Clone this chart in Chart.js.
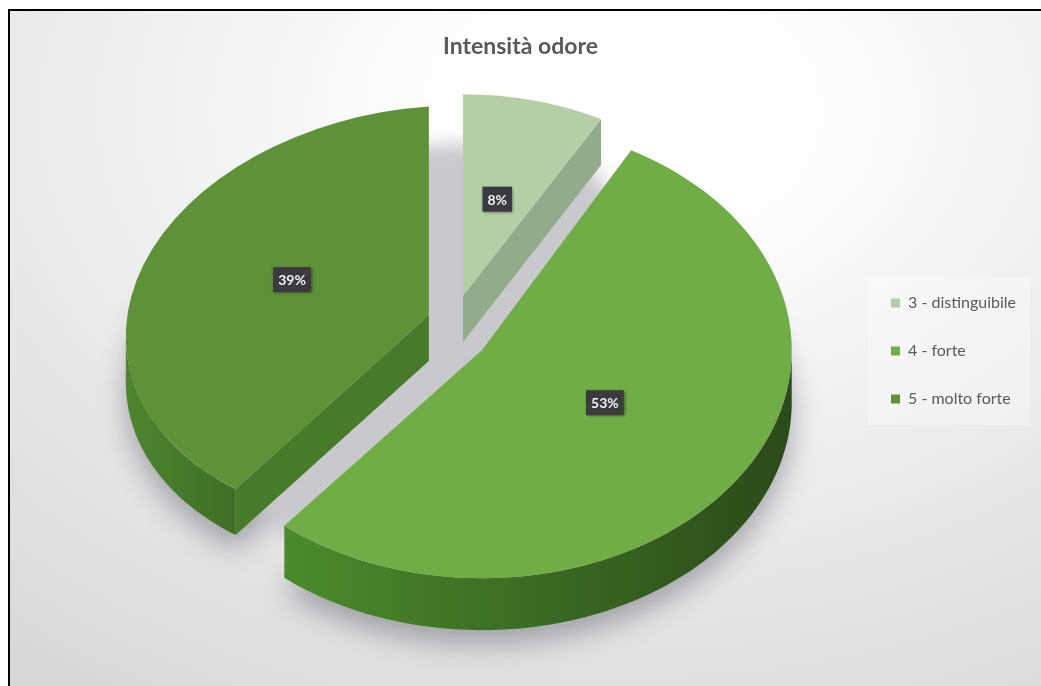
<!DOCTYPE html>
<html lang="it">
<head>
<meta charset="utf-8">
<title>Intensità odore</title>
<script src="https://cdn.jsdelivr.net/npm/chart.js@4"></script>
<style>
  html, body { margin: 0; padding: 0; background: #fff; overflow: hidden; }
  #bg {
    position: absolute; left: 8px; top: 9px; width: 1031px; height: 675px;
    border-left: 2px solid #000; border-top: 2px solid #000;
    background: radial-gradient(ellipse 1000px 700px at 612px 100px, #fff 0, #fff 15%, #d8d8d8 100%);
  }
  canvas { position: absolute; left: 0; top: 0; }
</style>
</head>
<body>
<div id="bg"></div>
<canvas id="pie" width="1041" height="686"></canvas>
<script>
"use strict";

// Data
const categories = ["3 - distinguibile", "4 - forte", "5 - molto forte"];
const values = [8, 53, 39];

// Colori
const topColors = ["#b6cea8", "#70ad47", "#5f9138"];
const sideColors = ["#93ab8c", "#4a7d2c", "#487a2b"];
const wallStops = [
    ["#93ab8c", "#93ab8c"],
    ["#4c8a2c", "#2b4a1a"],
    ["#4f8530", "#3e6e26"]
];

// Vista 3D: ogni fetta ha la sua scala per imitare la prospettiva
const pieCentre = { x: 454.5, y: 319.5 };
const baseRadius = 300;
const explode = [36, 32, 27];
const scaleX = [0.955, 1.033, 1.01];
const scaleY = [0.673, 0.76, 0.695];
const skew = [0, 0, -0.07];
const drop = [0, 17, 0];
const depth = [46, 52, 46];
const labelLift = [3, 9, 11];

function project(i, arc, angle, r) {
    const mid = (arc.startAngle + arc.endAngle) / 2;
    const dx = (Math.cos(mid) * explode[i] + Math.cos(angle) * r) * scaleX[i];
    const dy = (Math.sin(mid) * explode[i] + Math.sin(angle) * r) * scaleY[i];
    return { x: pieCentre.x + dx, y: pieCentre.y + drop[i] + dy + dx * skew[i] };
}

function sectorPath(ctx, i, arc, shift) {
    ctx.beginPath();
    const apex = project(i, arc, arc.startAngle, 0);
    ctx.moveTo(apex.x, apex.y + shift);
    for (let k = 0; k <= 80; k++) {
        const a = arc.startAngle + (arc.endAngle - arc.startAngle) * k / 80;
        const p = project(i, arc, a, arc.outerRadius);
        ctx.lineTo(p.x, p.y + shift);
    }
    ctx.closePath();
}

function drawEdgeWall(ctx, i, arc, angle) {
    const a = project(i, arc, angle, 0);
    const b = project(i, arc, angle, arc.outerRadius);
    ctx.beginPath();
    ctx.moveTo(a.x, a.y);
    ctx.lineTo(b.x, b.y);
    ctx.lineTo(b.x, b.y + depth[i]);
    ctx.lineTo(a.x, a.y + depth[i]);
    ctx.closePath();
    ctx.fillStyle = sideColors[i];
    ctx.fill();
}

function drawOuterWall(ctx, i, arc) {
    const pts = [];
    for (let k = 0; k <= 120; k++) {
        const a = arc.startAngle + (arc.endAngle - arc.startAngle) * k / 120;
        if (Math.sin(a) >= 0) pts.push(project(i, arc, a, arc.outerRadius));
    }
    if (pts.length < 2) return;
    const xs = pts.map(p => p.x);
    const grad = ctx.createLinearGradient(Math.min(...xs), 0, Math.max(...xs), 0);
    grad.addColorStop(0, wallStops[i][0]);
    grad.addColorStop(1, wallStops[i][1]);
    ctx.beginPath();
    pts.forEach((p, k) => (k ? ctx.lineTo(p.x, p.y) : ctx.moveTo(p.x, p.y)));
    pts.slice().reverse().forEach(p => ctx.lineTo(p.x, p.y + depth[i]));
    ctx.closePath();
    ctx.fillStyle = grad;
    ctx.fill();
}

function drawLabel(ctx, i, arc) {
    const total = values.reduce((s, v) => s + v, 0);
    const text = Math.round(values[i] / total * 100) + "%";
    const mid = (arc.startAngle + arc.endAngle) / 2;
    const p = project(i, arc, mid, arc.outerRadius * 0.48);
    p.y -= labelLift[i];
    ctx.font = "bold 14px Lato";
    const w = ctx.measureText(text).width + 10;
    const h = 25;
    ctx.save();
    ctx.shadowColor = "rgba(0,0,0,0.45)";
    ctx.shadowBlur = 3;
    ctx.shadowOffsetX = 1;
    ctx.shadowOffsetY = 1;
    ctx.fillStyle = "#3a3a40";
    ctx.fillRect(p.x - w / 2, p.y - h / 2, w, h);
    ctx.restore();
    ctx.fillStyle = "#f2f2f2";
    ctx.textAlign = "center";
    ctx.textBaseline = "middle";
    ctx.fillText(text, p.x, p.y + 1);
}

// Plugin: tekent de taart in 3D met de eigen arc elementen
const pie3d = {
    id: "pie3d",
    afterLayout: function(chart) {
        // legenda op zijn plaats
        const legend = chart.legend;
        const w = legend.right - legend.left;
        legend.left = 859;
        legend.right = legend.left + w;
        legend.top = 263;
        legend.bottom = 470;
    },
    beforeDraw: function(chart) {
        const ctx = chart.ctx;
        ctx.save();
        ctx.fillStyle = "rgba(255,255,255,0.3)";
        ctx.fillRect(868, 277, 162, 148);
        ctx.restore();
    },
    beforeDatasetsDraw: function(chart) {
        const ctx = chart.ctx;
        const arcs = chart.getDatasetMeta(0).data;

        // schaduw rond de fetten
        ctx.save();
        ctx.shadowColor = "rgba(70,70,80,0.42)";
        ctx.shadowBlur = 28;
        ctx.shadowOffsetY = 14;
        ctx.fillStyle = "#c4c4c8";
        arcs.forEach((arc, i) => {
            sectorPath(ctx, i, arc, depth[i]);
            ctx.fill();
        });
        ctx.restore();

        // schaduw op de vloer, zichtbaar in de spleten
        ctx.save();
        ctx.filter = "blur(9px)";
        ctx.fillStyle = "#c9c9cd";
        ctx.beginPath();
        ctx.ellipse(pieCentre.x, pieCentre.y + 48, baseRadius * 0.84, baseRadius * 0.74, 0, 0, Math.PI * 2);
        ctx.fill();
        ctx.restore();

        arcs.forEach((arc, i) => {
            // alleen de zijkanten die naar de kijker wijzen
            if (-Math.cos(arc.startAngle) > 0.001) drawEdgeWall(ctx, i, arc, arc.startAngle);
            if (Math.cos(arc.endAngle) > 0.001) drawEdgeWall(ctx, i, arc, arc.endAngle);
            drawOuterWall(ctx, i, arc);

            const origin = project(i, arc, arc.startAngle, 0);
            ctx.save();
            ctx.translate(origin.x, origin.y);
            ctx.transform(scaleX[i], skew[i] * scaleX[i], 0, scaleY[i], 0, 0);
            ctx.translate(-arc.x, -arc.y);
            arc.draw(ctx);
            ctx.restore();
        });

        arcs.forEach((arc, i) => drawLabel(ctx, i, arc));
        return false;
    }
};

// Configuration
const config = {
    type: "pie",
    data: {
        labels: categories,
        datasets: [{
            data: values,
            backgroundColor: topColors,
            borderWidth: 0,
            clip: false
        }]
    },
    options: {
        responsive: false,
        animation: false,
        radius: baseRadius,
        plugins: {
            title: {
                display: true,
                text: "Intensità odore",
                color: "#595959",
                font: { family: "Lato", size: 23, weight: "bold" },
                padding: { top: 33, bottom: 10 }
            },
            legend: {
                position: "right",
                align: "start",
                labels: {
                    boxWidth: 9,
                    boxHeight: 9,
                    padding: 32,
                    color: "#595959",
                    font: { family: "Lato", size: 16 }
                }
            },
            tooltip: { enabled: false }
        }
    },
    plugins: [pie3d]
};

// Create the chart
new Chart(document.getElementById("pie"), config);
</script>
</body>
</html>
